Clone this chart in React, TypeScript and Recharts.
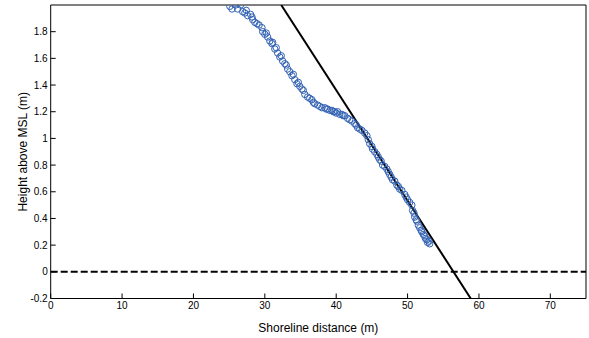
import React from 'react';
import { ComposedChart, Scatter, Line, XAxis, YAxis, ReferenceLine } from 'recharts';

// measured profile (shoreline distance in m, height above MSL in m)
const profileX = [
  25.1, 25.4, 25.9, 26.2, 26.6, 26.9, 27.2, 27.4, 27.6, 28.0, 28.2, 28.3, 28.6, 28.9, 29.2, 29.6,
  29.7, 30.0, 30.2, 30.4, 30.7, 31.0, 31.1, 31.4, 31.6, 31.8, 32.1, 32.3, 32.5, 32.8, 33.0, 33.2,
  33.5, 33.8, 34.0, 34.2, 34.5, 34.7, 34.9, 35.2, 35.4, 35.6, 36.0, 36.3, 36.6, 36.8, 37.0, 37.4,
  37.7, 38.0, 38.4, 38.6, 38.8, 39.1, 39.4, 39.6, 39.8, 40.0, 40.2, 40.5, 40.8, 41.0, 41.2, 41.6,
  41.9, 42.2, 42.6, 42.8, 43.0, 43.3, 43.6, 44.0, 44.3, 44.5, 44.7, 45.0, 45.1, 45.4, 45.7, 45.9,
  46.1, 46.3, 46.5, 46.8, 47.1, 47.3, 47.5, 47.7, 47.9, 48.2, 48.5, 48.7, 48.9, 49.2, 49.6, 49.8,
  50.0, 50.3, 50.6, 50.7, 50.9, 51.0, 51.2, 51.3, 51.5, 51.7, 51.9, 52.0, 52.2, 52.4, 52.5, 52.7,
  52.8, 53.0, 53.1,
];
const profileY = [
  1.99, 1.97, 2.0, 1.97, 2.0, 1.95, 1.94, 1.96, 1.92, 1.93, 1.91, 1.89, 1.87, 1.86, 1.85, 1.83,
  1.8, 1.78, 1.79, 1.76, 1.73, 1.71, 1.72, 1.67, 1.68, 1.64, 1.61, 1.62, 1.58, 1.56, 1.55, 1.52,
  1.5, 1.47, 1.48, 1.44, 1.41, 1.42, 1.39, 1.37, 1.36, 1.33, 1.31, 1.3, 1.29, 1.27, 1.26, 1.25,
  1.24, 1.23, 1.23, 1.22, 1.22, 1.21, 1.21, 1.2, 1.2, 1.19, 1.2, 1.18, 1.18, 1.17, 1.17, 1.15,
  1.14, 1.13, 1.11, 1.1, 1.08, 1.07, 1.06, 1.04, 1.02, 0.99, 0.96, 0.94, 0.92, 0.9, 0.88, 0.86,
  0.84, 0.83, 0.8, 0.79, 0.77, 0.75, 0.73, 0.71, 0.69, 0.68, 0.65, 0.64, 0.62, 0.61, 0.58, 0.56,
  0.54, 0.52, 0.5, 0.46, 0.44, 0.41, 0.39, 0.38, 0.35, 0.33, 0.31, 0.3, 0.28, 0.27, 0.25, 0.24,
  0.22, 0.23, 0.21,
];

// fitted linear slope, end points
const fitX = [32.3, 58.85];
const fitY = [2.0, -0.2];

const xTicks = [0, 10, 20, 30, 40, 50, 60, 70];
const yTicks = [-0.2, 0, 0.2, 0.4, 0.6, 0.8, 1, 1.2, 1.4, 1.6, 1.8];

const profileData = profileX.map((x, i) => ({ x, y: profileY[i] }));
const fitData = fitX.map((x, i) => ({ x, y: fitY[i] }));

const font = 'Liberation Sans, Arial, Helvetica, sans-serif';
const tickStyle = { fill: '#000', fontSize: 10, fontFamily: font };
const fmt = (v: number) => String(Number(v.toFixed(1)));

const OpenCircle = (props: any) => (
  <circle cx={props.cx} cy={props.cy} r={3.2} fill="none" stroke="#3262b4" strokeWidth={1} />
);

export default function App() {
  return (
    <div style={{ position: 'absolute', left: 0, top: 0, background: '#fff' }}>
      <ComposedChart width={589} height={338} margin={{ top: 4, right: 2, bottom: 0, left: 0 }}>
        <XAxis
          xAxisId="b"
          dataKey="x"
          type="number"
          domain={[0, 75]}
          ticks={xTicks}
          tickSize={-5}
          tickMargin={8}
          tick={tickStyle}
          stroke="#000"
          height={39.5}
          label={{ value: 'Shoreline distance (m)', position: 'insideBottom', offset: 6, fill: '#000', fontSize: 12, fontFamily: font }}
        />
        <XAxis xAxisId="t" orientation="top" type="number" domain={[0, 75]} ticks={xTicks} tickSize={-5} tick={false} stroke="#000" height={1} />
        <YAxis
          yAxisId="l"
          type="number"
          domain={[-0.2, 2]}
          allowDataOverflow
          ticks={yTicks}
          tickFormatter={fmt}
          tickSize={-5}
          tickMargin={8}
          tick={tickStyle}
          stroke="#000"
          width={50.7}
          label={{ value: 'Height above MSL (m)', angle: -90, position: 'center', dx: -3, fill: '#000', fontSize: 12, fontFamily: font }}
        />
        <YAxis yAxisId="r" orientation="right" type="number" domain={[-0.2, 2]} ticks={yTicks} tickSize={-5} tick={false} stroke="#000" width={1} />
        <ReferenceLine xAxisId="b" yAxisId="l" y={0} stroke="#000" strokeWidth={2} strokeDasharray="7 3" />
        <Scatter xAxisId="b" yAxisId="l" data={profileData} dataKey="y" shape={OpenCircle} isAnimationActive={false} />
        <Line xAxisId="b" yAxisId="l" data={fitData} dataKey="y" type="linear" stroke="#000" strokeWidth={2} dot={false} isAnimationActive={false} />
      </ComposedChart>
    </div>
  );
}
